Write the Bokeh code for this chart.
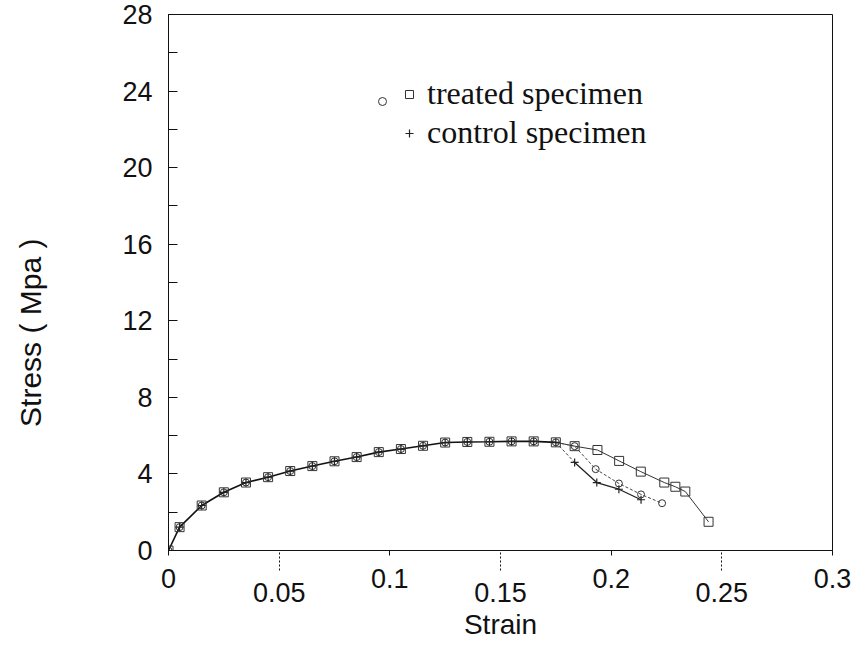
import numpy as np
from bokeh.plotting import figure
from bokeh.layouts import row
from bokeh.models import (Range1d, FixedTicker, LinearAxis, Legend, LegendItem)
from bokeh.core.properties import value
from bokeh.embed import file_html
from bokeh.resources import INLINE

# ---- data (strain, stress in MPa) ----
common_strain = [0.0, 0.005, 0.015, 0.025, 0.035, 0.045, 0.055, 0.065, 0.075, 0.085,
                 0.095, 0.105, 0.115, 0.125, 0.135, 0.145, 0.155, 0.165, 0.175]
common_stress = [0.0, 1.22, 2.35, 3.04, 3.55, 3.83, 4.15, 4.41, 4.66, 4.88,
                 5.14, 5.30, 5.47, 5.64, 5.67, 5.68, 5.70, 5.70, 5.65]

treated_sq_tail_strain = [0.1835, 0.1938, 0.2036, 0.2134, 0.224, 0.229, 0.2335, 0.244]
treated_sq_tail_stress = [5.45, 5.25, 4.68, 4.12, 3.55, 3.33, 3.08, 1.50]

treated_ci_tail_strain = [0.1835, 0.193, 0.2035, 0.2135, 0.223]
treated_ci_tail_stress = [5.45, 4.25, 3.50, 2.93, 2.47]

control_tail_strain = [0.1835, 0.1935, 0.2035, 0.2135]
control_tail_stress = [4.60, 3.55, 3.20, 2.65]

x_major_ticks = [0.0, 0.1, 0.2, 0.3]
x_major_labels = ["0", "0.1", "0.2", "0.3"]
x_offset_ticks = [0.05, 0.15, 0.25]
x_offset_labels = ["0.05", "0.15", "0.25"]
y_major_ticks = [0, 4, 8, 12, 16, 20, 24, 28]
y_minor_ticks = [2, 6, 10, 14, 18, 22, 26]
y_title = "Stress ( Mpa )"
x_title = "Strain"

SANS = "Liberation Sans"
SERIF = "Liberation Serif"
INK = "#111111"
TICK_FS = "27px"
TITLE_FS = "28px"

W, H = 853, 645
LAB_W = 60  # strip holding the vertical axis title

# ---- strip with the y-axis title (placed low, as in the original) ----
p_lab = figure(width=LAB_W, height=H, x_range=Range1d(0, LAB_W), y_range=Range1d(0, H),
               x_axis_type=None, y_axis_type=None, output_backend="svg",
               toolbar_location=None, min_border=0)
p_lab.title.visible = False
p_lab.outline_line_color = None
p_lab.text(x=[30], y=[H - 383], text=[y_title], angle=np.pi / 2,
           text_align="center", text_baseline="middle",
           text_font=value(SANS), text_font_size="30px", text_color=INK)

# ---- main plot ----
p = figure(width=W - LAB_W, height=H, x_range=Range1d(0, 0.3), y_range=Range1d(0, 28),
           x_axis_type=None, y_axis_type=None, output_backend="svg",
           toolbar_location=None, min_border_left=168 - LAB_W, min_border_right=21,
           min_border_top=14, min_border_bottom=95)
p.title.visible = False
p.outline_line_color = INK
p.outline_line_width = 1
p.background_fill_color = "white"
p.border_fill_color = "white"

yax = LinearAxis(ticker=FixedTicker(ticks=y_major_ticks, minor_ticks=y_minor_ticks),
                 major_tick_in=9, major_tick_out=0, minor_tick_in=9, minor_tick_out=0,
                 major_label_standoff=16, major_label_text_font=SANS,
                 major_label_text_font_size=TICK_FS, major_label_text_color=INK,
                 axis_line_color=INK, major_tick_line_color=INK, minor_tick_line_color=INK)
p.add_layout(yax, "left")

xax = LinearAxis(ticker=FixedTicker(ticks=x_major_ticks, minor_ticks=x_offset_ticks),
                 major_tick_in=0, major_tick_out=5, minor_tick_in=0, minor_tick_out=20,
                 major_label_standoff=-2, major_label_text_font=SANS,
                 major_label_text_font_size=TICK_FS, major_label_text_color=INK,
                 major_label_overrides=dict(zip(x_major_ticks, x_major_labels)),
                 minor_tick_line_dash="2 2",
                 axis_line_color=INK, major_tick_line_color=INK, minor_tick_line_color=INK)
p.add_layout(xax, "below")

xax2 = LinearAxis(ticker=FixedTicker(ticks=x_offset_ticks, minor_ticks=[]),
                  major_tick_in=0, major_tick_out=0, minor_tick_in=0, minor_tick_out=0,
                  major_label_standoff=-8, major_label_text_font=SANS,
                  major_label_text_font_size=TICK_FS, major_label_text_color=INK,
                  major_label_overrides=dict(zip(x_offset_ticks, x_offset_labels)),
                  axis_line_color=None, axis_label=x_title, axis_label_standoff=4,
                  axis_label_text_font=SANS, axis_label_text_font_size=TITLE_FS,
                  axis_label_text_font_style="normal", axis_label_text_color=INK)
p.add_layout(xax2, "below")

# ---- series ----
sq_x = common_strain + treated_sq_tail_strain
sq_y = common_stress + treated_sq_tail_stress
ci_x = common_strain + treated_ci_tail_strain
ci_y = common_stress + treated_ci_tail_stress
ct_x = common_strain + control_tail_strain
ct_y = common_stress + control_tail_stress

n = len(common_strain)
p.line(common_strain, common_stress, line_color=INK, line_width=1.6)
p.line(sq_x[n - 1:], sq_y[n - 1:], line_color="#333333", line_width=1.0)
p.line(ci_x[n - 1:], ci_y[n - 1:], line_color="#444444", line_width=1.0, line_dash="3 2")
p.line(ct_x[n - 1:n + 1], ct_y[n - 1:n + 1], line_color="#444444", line_width=1.0, line_dash="3 2")
p.line(ct_x[n:], ct_y[n:], line_color="#222222", line_width=1.3)

r_ci = p.scatter(ci_x, ci_y, marker="circle", size=7, fill_color=None,
                 line_color="#333333", line_width=1.0)
r_sq = p.scatter(sq_x, sq_y, marker="square", size=9, fill_color=None,
                 line_color="#333333", line_width=1.0)
r_ct = p.scatter(ct_x, ct_y, marker="cross", size=8, line_color="#222222", line_width=1.2)

legend_common = dict(label_text_font=SERIF, label_text_font_size="32px",
                     label_text_color=INK, glyph_width=20, glyph_height=20,
                     label_standoff=8, padding=0, margin=0, spacing=2,
                     border_line_color=None, background_fill_alpha=0)
legend = Legend(items=[LegendItem(label="treated specimen", renderers=[r_sq]),
                       LegendItem(label="control specimen", renderers=[r_ct])],
                location=(231, 399), **legend_common)
p.add_layout(legend)
legend_ci = Legend(items=[LegendItem(label=" ", renderers=[r_ci])],
                   location=(204, 439), **legend_common)
p.add_layout(legend_ci)

layout = row(p_lab, p, spacing=0)
open("out.html", "w").write(file_html(layout, INLINE))
